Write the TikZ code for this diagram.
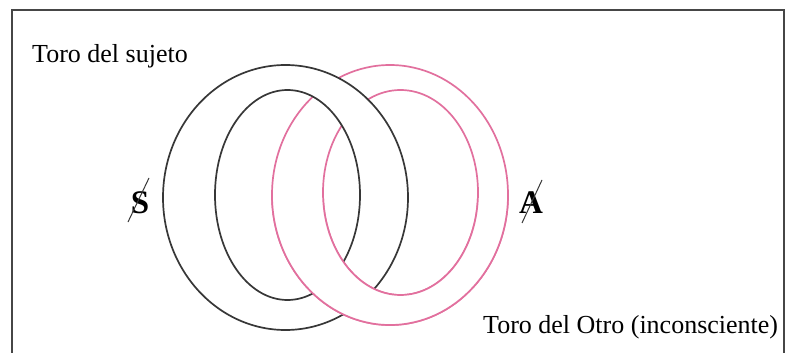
\documentclass[tikz,border=0pt]{standalone}
\usepackage{fontspec}
\setmainfont{Liberation Serif}
\definecolor{pinkc}{RGB}{226,112,158}
\definecolor{darkc}{RGB}{55,55,55}
\definecolor{framec}{RGB}{70,70,70}
\tikzset{
  blackring/.style={draw=darkc, line width=1.7pt},
  pinkring/.style={draw=pinkc, line width=1.7pt},
  lbl/.style={inner sep=0pt, font=\fontsize{26}{30}\selectfont},
  sym/.style={inner sep=0pt, font=\fontsize{33}{36}\selectfont\bfseries},
  slash/.style={draw=darkc, line width=1pt}
}
\newcommand\BOut{(285.5,197.5) ellipse [x radius=122.5, y radius=132.5]}
\newcommand\BIn{(287.5,195) ellipse [x radius=72.5, y radius=105]}
\newcommand\POut{(390,195) ellipse [x radius=118, y radius=130]}
\newcommand\PIn{(400.5,192.5) ellipse [x radius=77.5, y radius=102.5]}
\begin{document}
\begin{tikzpicture}[x=1pt,y=-1pt]
\useasboundingbox (0,0) rectangle (796,353);
\fill[white] (0,0) rectangle (796,353);
% frame (open at the bottom)
\draw[framec, line width=2.4pt] (12,353) -- (12,10) -- (784,10) -- (784,353);
% pink torus
\path[pinkring] \POut;
\path[pinkring] \PIn;
% black tube in front at the top
\begin{scope}
  \clip (0,0) rectangle (796,195);
  \fill[white, even odd rule] \BOut \BIn;
\end{scope}
\path[blackring] \BOut;
\path[blackring] \BIn;
% pink tube in front at the bottom
\begin{scope}
  \clip (0,195) rectangle (796,353);
  \fill[white, even odd rule] \POut \PIn;
  \path[pinkring] \POut;
  \path[pinkring] \PIn;
\end{scope}
% labels
\node[lbl, anchor=base west] (sujeto) at (32,63) {Toro del sujeto};
\node[lbl, anchor=base west] (otro) at (483,333) {Toro del Otro (inconsciente)};
\node[sym, anchor=base] (S) at (140,213) {S};
\coordinate (s1) at (149,178);
\coordinate (s2) at (128,222);
\draw[slash] (s1) -- (s2);
\node[sym, anchor=base] (A) at (531,213) {A};
\coordinate (a1) at (542,180);
\coordinate (a2) at (522,223);
\draw[slash] (a1) -- (a2);
\end{tikzpicture}
\end{document}
